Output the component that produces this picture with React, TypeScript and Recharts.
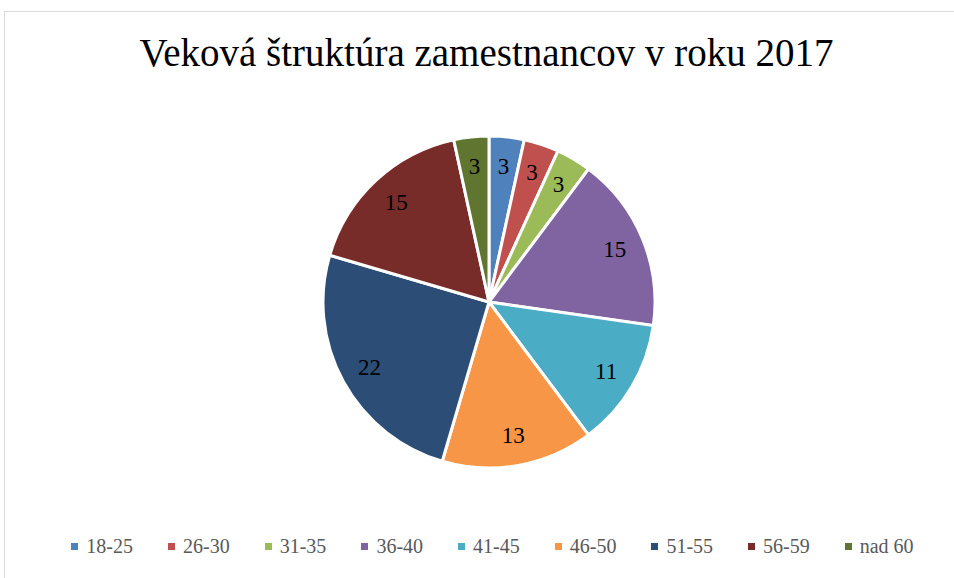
import React from 'react';
import { PieChart, Pie, Cell, Legend } from 'recharts';

const categories = ['18-25', '26-30', '31-35', '36-40', '41-45', '46-50', '51-55', '56-59', 'nad 60'];
const values = [3, 3, 3, 15, 11, 13, 22, 15, 3];
const colors = ['#4F81BD', '#C0504D', '#9BBB59', '#8064A2', '#4BACC6', '#F79646', '#2C4D75', '#772C2A', '#5F7530'];
const title = 'Veková štruktúra zamestnancov v roku 2017';

const data = categories.map((name, i) => ({ name, value: values[i] }));

const FONT = '"Liberation Serif", "DejaVu Serif", serif';
const RAD = Math.PI / 180;

const renderLabel = (props: any) => {
  const { cx, cy, midAngle, outerRadius, value } = props;
  const r = outerRadius * 0.82;
  const x = cx + r * Math.cos(-midAngle * RAD);
  const y = cy + r * Math.sin(-midAngle * RAD);
  return (
    <text x={x} y={y} textAnchor="middle" dominantBaseline="central" fill="#000" fontSize={23} fontFamily={FONT}>
      {value}
    </text>
  );
};

const renderLegend = (props: any) => {
  const { payload } = props;
  return (
    <div style={{ display: 'flex', justifyContent: 'center', fontFamily: FONT, fontSize: 20, color: '#595959' }}>
      {payload.map((p: any, i: number) => (
        <div key={i} style={{ display: 'flex', alignItems: 'center', marginRight: i < payload.length - 1 ? 35 : 0 }}>
          <span style={{ display: 'inline-block', width: 7, height: 7, background: p.color, marginRight: 8 }} />
          <span>{p.value}</span>
        </div>
      ))}
    </div>
  );
};

export default function App() {
  return (
    <div style={{ position: 'absolute', left: 0, top: 0, width: 954, height: 578, background: '#fff', overflow: 'hidden' }}>
      <div style={{ position: 'absolute', left: 4, top: 11, width: 1000, height: 600, border: '1px solid #d9d9d9' }} />
      <div style={{ position: 'absolute', left: 0, top: 31, width: 973, textAlign: 'center', fontFamily: FONT, fontSize: 39, color: '#000', lineHeight: '44px' }}>
        {title}
      </div>
      <div style={{ position: 'absolute', left: 0, top: 0 }}>
        <PieChart width={954} height={578}>
          <Pie
            data={data}
            dataKey="value"
            nameKey="name"
            cx={484}
            cy={297}
            outerRadius={166}
            startAngle={90}
            endAngle={-270}
            stroke="#fff"
            strokeWidth={3}
            label={renderLabel}
            labelLine={false}
            isAnimationActive={false}
          >
            {data.map((d, i) => (
              <Cell key={d.name} fill={colors[i]} />
            ))}
          </Pie>
          <Legend content={renderLegend} wrapperStyle={{ top: 535, left: 0, width: 985 }} />
        </PieChart>
      </div>
    </div>
  );
}
